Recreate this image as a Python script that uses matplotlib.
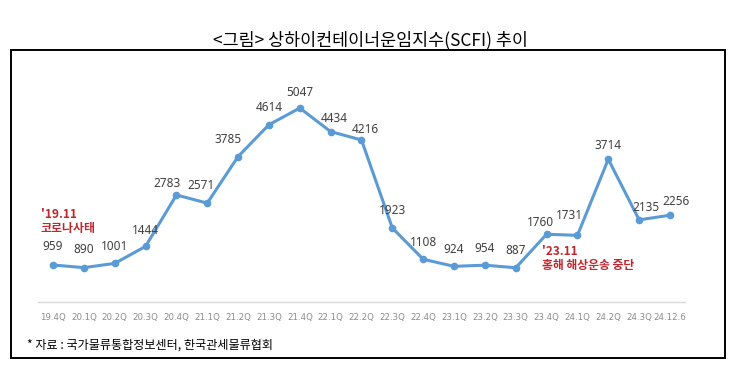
import matplotlib
matplotlib.use("Agg")
import matplotlib.pyplot as plt
from matplotlib.patches import Rectangle

plt.rcParams['font.family'] = ['Noto Sans CJK KR', 'DejaVu Sans']

periods = ["19.4Q", "20.1Q", "20.2Q", "20.3Q", "20.4Q", "21.1Q", "21.2Q", "21.3Q",
           "21.4Q", "22.1Q", "22.2Q", "22.3Q", "22.4Q", "23.1Q", "23.2Q", "23.3Q",
           "23.4Q", "24.1Q", "24.2Q", "24.3Q", "24.12.6"]
scfi = [959, 890, 1001, 1444, 2783, 2571, 3785, 4614, 5047, 4434, 4216, 1923,
        1108, 924, 954, 887, 1760, 1731, 3714, 2135, 2256]

title = "<그림> 상하이컨테이너운임지수(SCFI) 추이"
source = "* 자료 : 국가물류통합정보센터, 한국관세물류협회"
note1 = "'19.11\n코로나사태"
note2 = "'23.11\n홍해 해상운송 중단"

# label offsets in pixels (dx, dy) — styling only
offsets = [(0, 18), (0, 18), (0, 17), (0, 16), (-9, 11), (-6, 18), (-10, 17), (0, 17),
           (0, 16), (4, 13), (4, 10), (0, 17), (0, 17), (0, 17), (0, 17), (0, 17),
           (-6, 12), (-8, 20), (0, 14), (7, 12), (6, 14)]

W, H = 734, 368
fig = plt.figure(figsize=(W / 100, H / 100), dpi=100)

ax_left = 37.6 / W
ax_right = 685.4 / W
ax_bottom = (H - 301.8) / H
ax_top = (H - 71.5) / H
ax = fig.add_axes([ax_left, ax_bottom, ax_right - ax_left, ax_top - ax_bottom])

x = list(range(len(scfi)))
ax.plot(x, scfi, color='#5B9BD5', lw=2.2, marker='o', ms=4.5, zorder=3,
        solid_capstyle='round', clip_on=False)
ax.set_xlim(-0.5, len(scfi) - 0.5)
ax.set_ylim(0, 6000)

for i, (v, (dx, dy)) in enumerate(zip(scfi, offsets)):
    ax.annotate(str(v), (i, v), xytext=(dx * 0.72, dy * 0.72), textcoords='offset points',
                ha='center', va='center', fontsize=8.5, color='#404040',
                family=['Noto Sans', 'DejaVu Sans'])

ax.set_xticks(x)
ax.set_xticklabels(periods, fontsize=6.2, color='#8c8c8c', family=['DejaVu Sans'])
ax.tick_params(axis='x', length=0, pad=8)
ax.set_yticks([])
for s in ['top', 'right', 'left']:
    ax.spines[s].set_visible(False)
ax.spines['bottom'].set_color('#d9d9d9')
ax.spines['bottom'].set_linewidth(1.0)
ax.patch.set_alpha(0)

# annotations (red)
fig.text(40.7 / W, 1 - 221.5 / H, note1, fontsize=8.6, color='#C0272D',
         ha='left', va='center', fontweight='bold', linespacing=1.1)
fig.text(541.7 / W, 1 - 258.5 / H, note2, fontsize=8.5, color='#C0272D',
         ha='left', va='center', fontweight='bold', linespacing=1.1)

# title
fig.text(370 / W, 1 - 40.5 / H, title, fontsize=12.5, color='black',
         ha='center', va='center')

# box
fig.add_artist(Rectangle((10.5 / W, 1 - 357.5 / H), (724.5 - 10.5) / W, (357.5 - 50) / H,
                         transform=fig.transFigure, fill=False, lw=1.4, ec='black'))

# source
fig.text(27 / W, 1 - 345 / H, source, fontsize=8.7, color='black', ha='left', va='center')

fig.savefig('out.png', dpi=100)
